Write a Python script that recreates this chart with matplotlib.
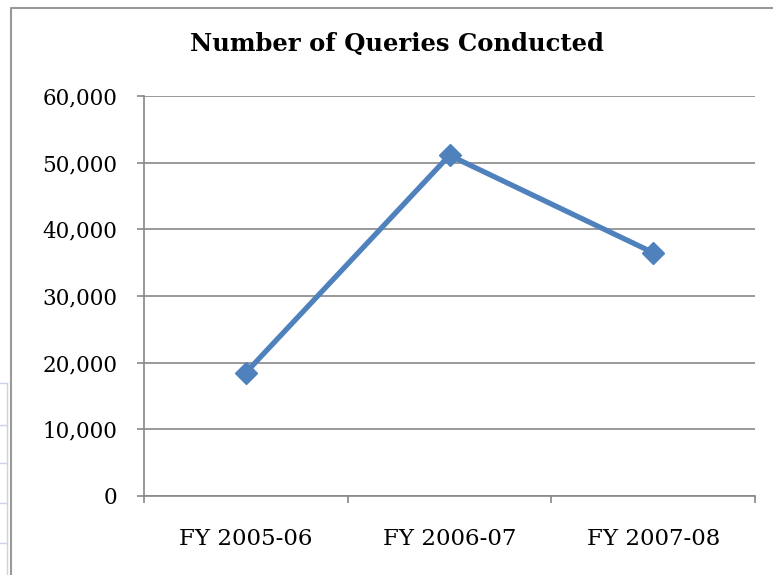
import matplotlib
matplotlib.use("Agg")
import matplotlib.pyplot as plt
from matplotlib.lines import Line2D
from matplotlib.ticker import FuncFormatter

categories = ["FY 2005-06", "FY 2006-07", "FY 2007-08"]
queries = [18500, 51100, 36500]

W, H = 773, 575
fig = plt.figure(figsize=(W / 100, H / 100), dpi=100)
ax = fig.add_axes([144 / W, 1 - 496 / H, (755 - 144) / W, (496 - 96) / H])

grey = "#878787"
x = range(len(categories))
ax.plot(x, queries, color="#4F81BD", lw=3.8, marker="D", markersize=11,
        solid_capstyle="round", zorder=5, clip_on=False)

ax.set_xlim(-0.5, len(categories) - 0.5)
ax.set_ylim(0, 60000)
ax.set_yticks(range(0, 60001, 10000))
ax.yaxis.set_major_formatter(FuncFormatter(lambda v, p: f"{int(v):,}"))
ax.set_xticks(list(x))
ax.set_xticklabels(categories)
ax.set_xticks([-0.5, 0.5, 1.5, 2.5], minor=True)
ax.tick_params(axis="x", which="major", length=0, pad=23)
ax.tick_params(axis="x", which="minor", length=5, color=grey, width=1.2)
ax.tick_params(axis="y", length=5, color=grey, width=1.2, pad=14)
for lab in ax.get_yticklabels():
    lab.set_fontfamily("DejaVu Serif")
    lab.set_fontsize(15.5)
for lab in ax.get_xticklabels():
    lab.set_fontfamily("DejaVu Serif")
    lab.set_fontsize(16.5)

ax.grid(axis="y", color=grey, lw=1.2)
ax.set_axisbelow(True)
for s in ["top", "right"]:
    ax.spines[s].set_visible(False)
for s in ["left", "bottom"]:
    ax.spines[s].set_color(grey)
    ax.spines[s].set_linewidth(1.2)

fig.text(397 / W, 1 - 44 / H, "Number of Queries Conducted", ha="center", va="center",
         fontsize=17.5, fontweight="bold", family="DejaVu Serif")

# chart frame and left-edge screenshot remnants
fig.add_artist(Line2D([10.5 / W, 10.5 / W, 1], [0, 1 - 7.5 / H, 1 - 7.5 / H],
                      color="#999999", lw=1.5))
fig.add_artist(Line2D([7 / W, 7 / W], [0, 1 - 383 / H], color="#c9d3e3", lw=1))
for yy in [383, 425, 463, 503, 543]:
    fig.add_artist(Line2D([0, 7 / W], [1 - yy / H, 1 - yy / H], color="#c9d3e3", lw=1))

fig.savefig("out.png", dpi=100)
